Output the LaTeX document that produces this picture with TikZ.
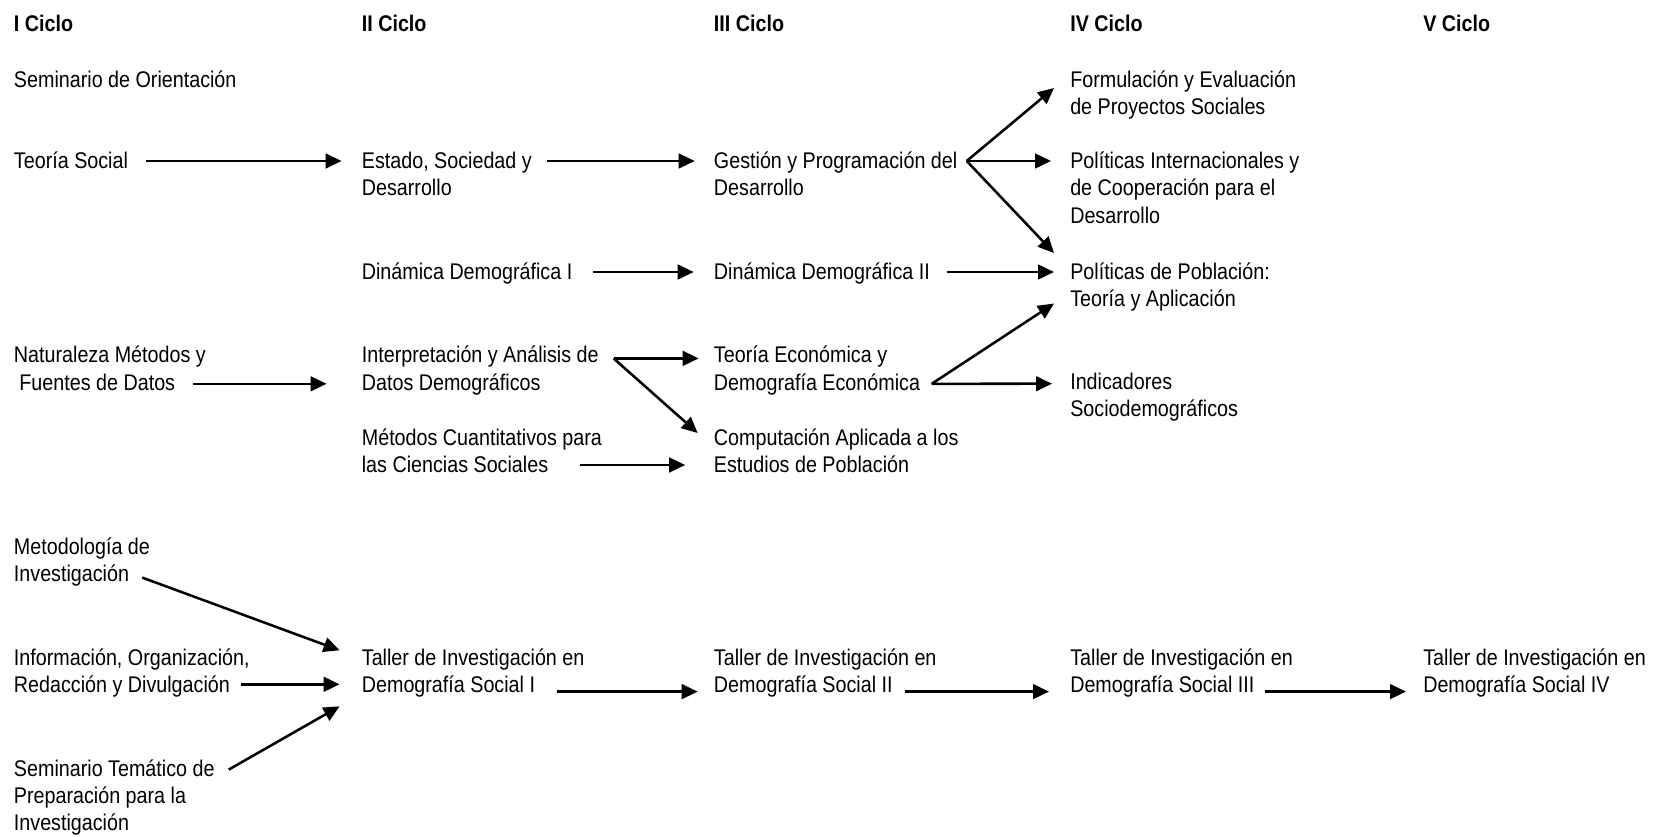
\documentclass[tikz,border=0pt]{standalone}
\usepackage{fontspec}
\setmainfont{Liberation Sans}[FakeStretch=0.87]
\usetikzlibrary{arrows.meta}

% varias lineas, con la base en la primera
\newcommand{\lineas}[1]{\begin{tabular}[t]{@{}l@{}}#1\end{tabular}}

\tikzset{
  curso/.style={anchor=base west, inner sep=0pt,
    font=\fontsize{17pt}{20.5pt}\selectfont},
  ciclo/.style={curso, font=\fontsize{17pt}{20.5pt}\selectfont\bfseries},
  flecha/.style={-{Triangle[length=12pt,width=11pt]}, line width=1.9pt}
}

\begin{document}
\begin{tikzpicture}[x=0.75pt,y=-0.75pt]

  \useasboundingbox (0,0) rectangle (1653,836);

  % Ciclos

  \node[ciclo] (c1) at (13.7,31) {I Ciclo};
  \node[ciclo] (c2) at (361.6,31) {II Ciclo};
  \node[ciclo] (c3) at (713.7,31) {III Ciclo};
  \node[ciclo] (c4) at (1070,31) {IV Ciclo};
  \node[ciclo] (c5) at (1423,31) {V Ciclo};

  % I Ciclo

  \node[curso] (orient) at (13.7,87)    {Seminario de Orientación};
  \node[curso] (teosoc) at (13.7,168.5) {Teoría Social};
  \node[curso] (natur)  at (13.7,362.8) {\lineas{Naturaleza Métodos y\\\ Fuentes de Datos}};
  \node[curso] (metinv) at (13.7,554.6) {\lineas{Metodología de\\Investigación}};
  \node[curso] (infor)  at (13.7,665.3) {\lineas{Información, Organización,\\Redacción y Divulgación}};
  \node[curso] (semtem) at (13.7,776)   {\lineas{Seminario Temático de\\Preparación para la\\Investigación}};

  % II Ciclo

  \node[curso] (estado)  at (361.6,168.5) {\lineas{Estado, Sociedad y\\Desarrollo}};
  \node[curso] (dinam1)  at (361.6,279.5) {Dinámica Demográfica I};
  \node[curso] (interp)  at (361.6,362.8) {\lineas{Interpretación y Análisis de\\Datos Demográficos}};
  \node[curso] (metcuan) at (361.6,445)   {\lineas{Métodos Cuantitativos para\\las Ciencias Sociales}};
  \node[curso] (taller1) at (361.6,665.3) {\lineas{Taller de Investigación en\\Demografía Social I}};

  % III Ciclo

  \node[curso] (gestion) at (713.7,168.5) {\lineas{Gestión y Programación del\\Desarrollo}};
  \node[curso] (dinam2)  at (713.7,279.5) {Dinámica Demográfica II};
  \node[curso] (teoecon) at (713.7,362.8) {\lineas{Teoría Económica y\\Demografía Económica}};
  \node[curso] (comput)  at (713.7,445)   {\lineas{Computación Aplicada a los\\Estudios de Población}};
  \node[curso] (taller2) at (713.7,665.3) {\lineas{Taller de Investigación en\\Demografía Social II}};

  % IV y V Ciclo

  \node[curso] (formul)  at (1070,87)    {\lineas{Formulación y Evaluación\\de Proyectos Sociales}};
  \node[curso] (polint)  at (1070,168.5) {\lineas{Políticas Internacionales y\\de Cooperación para el\\Desarrollo}};
  \node[curso] (polpob)  at (1070,279.5) {\lineas{Políticas de Población:\\Teoría y Aplicación}};
  \node[curso] (indic)   at (1070,389)   {\lineas{Indicadores\\Sociodemográficos}};
  \node[curso] (taller3) at (1070,665.3) {\lineas{Taller de Investigación en\\Demografía Social III}};
  \node[curso] (taller4) at (1423,665.3) {\lineas{Taller de Investigación en\\Demografía Social IV}};

  % Flechas

  \draw[flecha] ([shift={(132,-7.5)}]teosoc.base west) -- ([shift={(-20,-7.5)}]estado.base west);
  \draw[flecha] ([shift={(185,-7.5)}]estado.base west) -- ([shift={(-19,-7.5)}]gestion.base west);
  \draw[flecha] ([shift={(253,-7.5)}]gestion.base west) -- ([shift={(-16,1)}]formul.base west);
  \draw[flecha] ([shift={(253,-7.5)}]gestion.base west) -- ([shift={(-19,-7.5)}]polint.base west);
  \draw[flecha] ([shift={(253,-7.5)}]gestion.base west) -- ([shift={(-16,-26.5)}]polpob.base west);
  \draw[flecha] ([shift={(231,-7.5)}]dinam1.base west) -- ([shift={(-20,-7.5)}]dinam2.base west);
  \draw[flecha] ([shift={(233,-7.5)}]dinam2.base west) -- ([shift={(-16,-7.5)}]polpob.base west);
  \draw[flecha] ([shift={(179,21)}]natur.base west) -- ([shift={(-35,21)}]interp.base west);
  \draw[flecha] ([shift={(252,-4.4)}]interp.base west) -- ([shift={(-15,-4.4)}]teoecon.base west);
  \draw[flecha] ([shift={(252,-4.4)}]interp.base west) -- ([shift={(-16,-12)}]comput.base west);
  \draw[flecha] ([shift={(218,21)}]teoecon.base west) -- ([shift={(-16,24)}]polpob.base west);
  \draw[flecha] ([shift={(218,21)}]teoecon.base west) -- ([shift={(-18,-5.3)}]indic.base west);
  \draw[flecha] ([shift={(218,20)}]metcuan.base west) -- ([shift={(-28.5,20)}]comput.base west);
  \draw[flecha] ([shift={(128.6,23)}]metinv.base west) -- ([shift={(-22,-15)}]taller1.base west);
  \draw[flecha] ([shift={(227.7,19)}]infor.base west) -- ([shift={(-22,19)}]taller1.base west);
  \draw[flecha] ([shift={(215,-6.4)}]semtem.base west) -- ([shift={(-22,41)}]taller1.base west);
  \draw[flecha] ([shift={(195,26.3)}]taller1.base west) -- ([shift={(-16,26.3)}]taller2.base west);
  \draw[flecha] ([shift={(191,26.3)}]taller2.base west) -- ([shift={(-21,26.3)}]taller3.base west);
  \draw[flecha] ([shift={(195,26.3)}]taller3.base west) -- ([shift={(-17,26.3)}]taller4.base west);

\end{tikzpicture}
\end{document}
